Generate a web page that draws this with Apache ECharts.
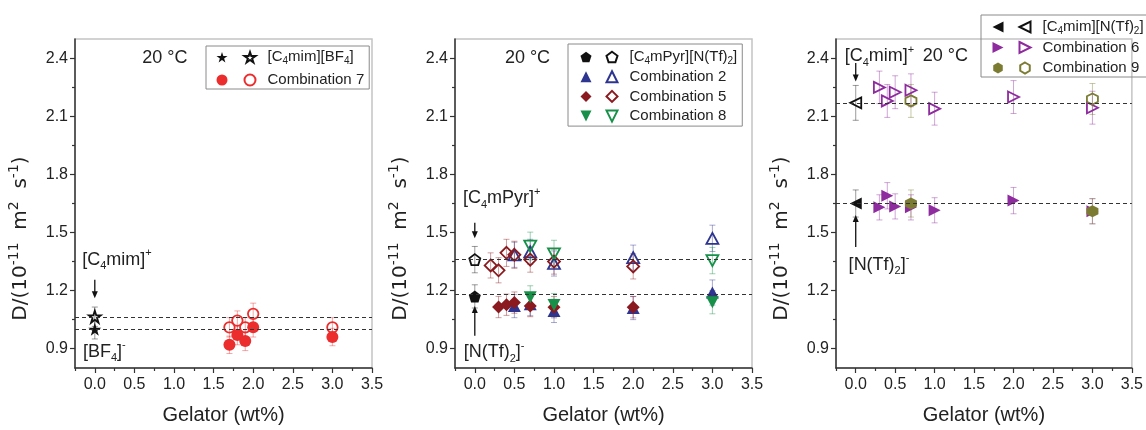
<!DOCTYPE html>
<html><head><meta charset="utf-8">
<script src="https://cdn.jsdelivr.net/npm/echarts@6/dist/echarts.min.js"></script>
<style>html,body{margin:0;padding:0;background:#fff}#c{width:1146px;height:430px}</style>
</head><body><div id="c"></div>
<script>
// ---------------- DATA ----------------
const xTicks = [0, 0.5, 1, 1.5, 2, 2.5, 3, 3.5];
const xMinorTicks = [-0.25, 0.25, 0.75, 1.25, 1.75, 2.25, 2.75, 3.25];
const yTicks = [0.9, 1.2, 1.5, 1.8, 2.1, 2.4];
const yMinorTicks = [1.05, 1.35, 1.65, 1.95, 2.25];

// Panel 1 : [C4mim][BF4] + Combination 7
const bf4X = [0];
const bf4Filled = [1.00], bf4FilledErr = [0.05];
const bf4Open = [1.065], bf4OpenErr = [0.05];
const comb7X = [1.7, 1.8, 1.9, 2.0, 3.0];
const comb7Filled = [0.92, 0.97, 0.94, 1.01, 0.96];
const comb7FilledErr = [0.045, 0.05, 0.05, 0.05, 0.045];
const comb7Open = [1.01, 1.045, 1.01, 1.08, 1.01];
const comb7OpenErr = [0.05, 0.05, 0.05, 0.055, 0.05];
const panel1Ref = [1.00, 1.065];

// Panel 2 : [C4mPyr][N(Tf)2] + Combinations 2, 5, 8
const pyrX = [0];
const pyrFilled = [1.17], pyrFilledErr = [0.06];
const pyrOpen = [1.36], pyrOpenErr = [0.068];
const comb2X = [0.5, 0.7, 1.0, 2.0, 3.0];
const comb2Filled = [1.12, 1.13, 1.095, 1.11, 1.19];
const comb2FilledErr = [0.06, 0.06, 0.06, 0.06, 0.065];
const comb2Open = [1.385, 1.40, 1.34, 1.37, 1.47];
const comb2OpenErr = [0.065, 0.065, 0.065, 0.065, 0.068];
const comb5FilledX = [0.3, 0.4, 0.5, 0.7, 1.0, 2.0];
const comb5Filled = [1.115, 1.127, 1.138, 1.12, 1.114, 1.114];
const comb5FilledErr = [0.055, 0.055, 0.055, 0.055, 0.055, 0.055];
const comb5OpenX = [0.2, 0.3, 0.4, 0.5, 0.7, 1.0, 2.0];
const comb5Open = [1.33, 1.305, 1.395, 1.385, 1.36, 1.35, 1.325];
const comb5OpenErr = [0.065, 0.065, 0.07, 0.07, 0.065, 0.065, 0.065];
const comb8X = [0.7, 1.0, 3.0];
const comb8Filled = [1.165, 1.125, 1.14];
const comb8FilledErr = [0.06, 0.06, 0.06];
const comb8Open = [1.43, 1.39, 1.355];
const comb8OpenErr = [0.072, 0.07, 0.068];
const panel2Ref = [1.36, 1.175];

// Panel 3 : [C4mim][N(Tf)2] + Combinations 6, 9
const tfX = [0];
const tfFilled = [1.65], tfFilledErr = [0.07];
const tfOpen = [2.17], tfOpenErr = [0.09];
const comb6X = [0.3, 0.4, 0.5, 0.7, 1.0, 2.0, 3.0];
const comb6Filled = [1.63, 1.69, 1.635, 1.63, 1.615, 1.665, 1.61];
const comb6FilledErr = [0.065, 0.068, 0.065, 0.065, 0.065, 0.068, 0.065];
const comb6Open = [2.25, 2.18, 2.225, 2.235, 2.14, 2.20, 2.145];
const comb6OpenErr = [0.084, 0.085, 0.085, 0.085, 0.085, 0.085, 0.085];
const comb9X = [0.7, 3.0];
const comb9Filled = [1.65, 1.61], comb9FilledErr = [0.07, 0.065];
const comb9Open = [2.18, 2.19], comb9OpenErr = [0.085, 0.08];
const panel3Ref = [2.17, 1.65];

// Annotations text
const tempLabel = '20 °C';
const ionLabels = [
  ['[C{s|4}mim]{p|+}', '[BF{s|4}]{p|-}'],
  ['[C{s|4}mPyr]{p|+}', '[N(Tf){s|2}]{p|-}'],
  ['[C{s|4}mim]{p|+}', '[N(Tf){s|2}]{p|-}']
];
const yTitle = 'D/(10{p|-11}  m{p|2}  s{p|-1})';
const xTitle = 'Gelator (wt%)';

// ---------------- STYLE / LAYOUT ----------------
const FONT = '"Liberation Sans", Arial, Helvetica, sans-serif';
const C = {
  black: '#111111', red: '#ec2d2d', blue: '#2e3590', dred: '#8a1a1f',
  green: '#17914a', purple: '#8e2b9e', olive: '#7b7c32'
};
const SYM = {
  star: 'path://M50,0 L61.8,35.4 L99,35.4 L68.9,57.3 L80.3,92.7 L50,70.8 L19.7,92.7 L31.1,57.3 L1,35.4 L38.2,35.4 Z',
  pent: 'path://M50,0 L97.6,34.5 L79.4,90.5 L20.6,90.5 L2.4,34.5 Z',
  hex: 'path://M50,0 L93.3,25 L93.3,75 L50,100 L6.7,75 L6.7,25 Z',
  up: 'path://M50,0 L100,100 L0,100 Z',
  down: 'path://M0,0 L100,0 L50,100 Z',
  left: 'path://M0,50 L100,0 L100,100 Z',
  right: 'path://M0,0 L100,50 L0,100 Z',
  diamond: 'diamond',
  circle: 'circle'
};
function rgba(hex, a) { const n = parseInt(hex.slice(1), 16); return `rgba(${n >> 16 & 255},${n >> 8 & 255},${n & 255},${a})`; }

const gridLefts = [75, 455, 836];
const grids = gridLefts.map(l => ({
  left: l, top: 39, width: 297, height: 334, show: true,
  borderColor: '#c4c4c4', borderWidth: 1.5, backgroundColor: 'transparent'
}));

const axisColor = '#333';
const xAxes = [], yAxes = [];
const richSup = {
  p: { fontSize: 14, fontFamily: '"DejaVu Sans", sans-serif', color: '#222', verticalAlign: 'top' }
};
gridLefts.forEach((_, i) => {
  xAxes.push({
    type: 'value', gridIndex: i, min: -0.25, max: 3.5, position: 'bottom',
    axisLine: { show: true, onZero: false, lineStyle: { color: axisColor, width: 1.5 } },
    axisTick: { show: true, length: 5, customValues: xTicks, lineStyle: { color: axisColor, width: 1.2 } },
    axisLabel: { customValues: xTicks, formatter: v => v.toFixed(1), fontSize: 16, color: '#222', fontFamily: FONT, margin: 9 },
    splitLine: { show: false },
    name: xTitle, nameLocation: 'middle', nameGap: 37,
    nameTextStyle: { fontSize: 20, fontFamily: FONT, color: '#222' }
  });
  xAxes.push({
    type: 'value', gridIndex: i, min: -0.25, max: 3.5, position: 'bottom',
    axisLine: { show: false, onZero: false },
    axisTick: { show: true, length: 3, customValues: xMinorTicks, lineStyle: { color: axisColor, width: 1.2 } },
    axisLabel: { show: false }, splitLine: { show: false }
  });
  yAxes.push({
    type: 'value', gridIndex: i, min: 0.8, max: 2.5, position: 'left',
    axisLine: { show: true, onZero: false, lineStyle: { color: axisColor, width: 1.5 } },
    axisTick: { show: true, length: 5, customValues: yTicks, lineStyle: { color: axisColor, width: 1.2 } },
    axisLabel: { customValues: yTicks, formatter: v => v.toFixed(1), fontSize: 16, color: '#222', fontFamily: FONT, margin: 7 },
    splitLine: { show: false },
    name: yTitle, nameLocation: 'middle', nameGap: 40, nameRotate: 90,
    nameTextStyle: { fontSize: 20, fontFamily: '"DejaVu Sans", sans-serif', color: '#222', lineHeight: 28, padding: [0, 70, 0, 0], rich: richSup }
  });
  yAxes.push({
    type: 'value', gridIndex: i, min: 0.8, max: 2.5, position: 'left',
    axisLine: { show: false, onZero: false },
    axisTick: { show: true, length: 3, customValues: yMinorTicks, lineStyle: { color: axisColor, width: 1.2 } },
    axisLabel: { show: false }, splitLine: { show: false }
  });
});

const series = [];
function pts(xs, ys) { return xs.map((x, k) => [x, ys[k]]); }
function errBars(panel, xs, ys, es, color) {
  series.push({
    type: 'custom', xAxisIndex: panel * 2, yAxisIndex: panel * 2, silent: true, z: 1,
    data: xs.map((x, k) => [x, ys[k], es[k]]),
    encode: { x: 0, y: 1 },
    renderItem: (params, api) => {
      const x = api.value(0), y = api.value(1), e = api.value(2);
      const t = api.coord([x, y + e]), b = api.coord([x, y - e]);
      const w = 3, st = { stroke: rgba(color, 0.42), lineWidth: 1 };
      return { type: 'group', children: [
        { type: 'line', shape: { x1: t[0], y1: t[1], x2: b[0], y2: b[1] }, style: st },
        { type: 'line', shape: { x1: t[0] - w, y1: t[1], x2: t[0] + w, y2: t[1] }, style: st },
        { type: 'line', shape: { x1: b[0] - w, y1: b[1], x2: b[0] + w, y2: b[1] }, style: st }
      ] };
    }
  });
}
function scat(panel, name, xs, ys, sym, size, color, open, z) {
  series.push({
    type: 'scatter', name, xAxisIndex: panel * 2, yAxisIndex: panel * 2, z: z || 3,
    symbol: SYM[sym], symbolSize: size, data: pts(xs, ys),
    itemStyle: open ? { color: 'rgba(255,255,255,0)', borderColor: color, borderWidth: 1.8, opacity: 1 }
                    : { color, borderWidth: 0, opacity: 1 },
    emphasis: { disabled: true }
  });
}
function refLines(panel, vals) {
  series.push({
    type: 'scatter', xAxisIndex: panel * 2, yAxisIndex: panel * 2, data: [], silent: true, z: 2,
    markLine: {
      silent: true, symbol: ['none', 'none'], label: { show: false },
      lineStyle: { type: [4, 3], color: '#333', width: 1 },
      data: vals.map(v => ({ yAxis: v }))
    }
  });
}
function texts(panel, items) {
  series.push({
    type: 'custom', xAxisIndex: panel * 2, yAxisIndex: panel * 2, silent: true, z: 5,
    data: items.map(it => [it.x, it.y]), encode: { x: 0, y: 1 },
    renderItem: (params, api) => {
      const it = items[params.dataIndex];
      const p = api.coord([api.value(0), api.value(1)]);
      return { type: 'text', x: p[0], y: p[1], style: {
        text: it.t, fontSize: 18, fontFamily: FONT, fill: '#222', align: 'left', verticalAlign: 'middle',
        lineHeight: 24,
        rich: {
          s: { fontSize: 11, fontFamily: FONT, fill: '#222', verticalAlign: 'bottom' },
          p: { fontSize: 11, fontFamily: FONT, fill: '#222', verticalAlign: 'top' }
        }
      } };
    }
  });
}
function arrows(panel, items) {
  series.push({
    type: 'custom', xAxisIndex: panel * 2, yAxisIndex: panel * 2, silent: true, z: 5,
    data: items, encode: { x: 0, y: [1, 2] },
    renderItem: (params, api) => {
      const a = api.coord([api.value(0), api.value(1)]), b = api.coord([api.value(0), api.value(2)]);
      const dir = b[1] > a[1] ? 1 : -1, hl = 7, hw = 3;
      return { type: 'group', children: [
        { type: 'line', shape: { x1: a[0], y1: a[1], x2: b[0], y2: b[1] - dir * hl * 0.6 }, style: { stroke: '#111', lineWidth: 1.3 } },
        { type: 'polygon', shape: { points: [[b[0], b[1]], [b[0] - hw, b[1] - dir * hl], [b[0] + hw, b[1] - dir * hl]] }, style: { fill: '#111' } }
      ] };
    }
  });
}

// ---- Panel 1 ----
refLines(0, panel1Ref);
errBars(0, bf4X, bf4Filled, bf4FilledErr, C.black);
errBars(0, bf4X, bf4Open, bf4OpenErr, C.black);
errBars(0, comb7X, comb7Filled, comb7FilledErr, C.red);
errBars(0, comb7X, comb7Open, comb7OpenErr, C.red);
scat(0, 'bf4 f', bf4X, bf4Filled, 'star', 13, C.black, false);
scat(0, 'bf4 o', bf4X, bf4Open, 'star', 12, C.black, true);
scat(0, 'c7 f', comb7X, comb7Filled, 'circle', 12, C.red, false);
scat(0, 'c7 o', comb7X, comb7Open, 'circle', 10.5, C.red, true);
texts(0, [
  { x: 0.6, y: 2.4, t: tempLabel },
  { x: -0.16, y: 1.36, t: ionLabels[0][0] },
  { x: -0.15, y: 0.885, t: ionLabels[0][1] }
]);
arrows(0, [[0, 1.256, 1.16]]);

// ---- Panel 2 ----
refLines(1, panel2Ref);
errBars(1, pyrX, pyrFilled, pyrFilledErr, C.black);
errBars(1, pyrX, pyrOpen, pyrOpenErr, C.black);
errBars(1, comb2X, comb2Filled, comb2FilledErr, C.blue);
errBars(1, comb2X, comb2Open, comb2OpenErr, C.blue);
errBars(1, comb5FilledX, comb5Filled, comb5FilledErr, C.dred);
errBars(1, comb5OpenX, comb5Open, comb5OpenErr, C.dred);
errBars(1, comb8X, comb8Filled, comb8FilledErr, C.green);
errBars(1, comb8X, comb8Open, comb8OpenErr, C.green);
scat(1, 'pyr f', pyrX, pyrFilled, 'pent', 12, C.black, false);
scat(1, 'pyr o', pyrX, pyrOpen, 'pent', 11, C.black, true);
scat(1, 'c2 f', comb2X, comb2Filled, 'up', [13, 12], C.blue, false);
scat(1, 'c2 o', comb2X, comb2Open, 'up', [12, 11], C.blue, true);
scat(1, 'c5 f', comb5FilledX, comb5Filled, 'diamond', 13, C.dred, false);
scat(1, 'c5 o', comb5OpenX, comb5Open, 'diamond', 12, C.dred, true);
scat(1, 'c8 f', comb8X, comb8Filled, 'down', [13, 12], C.green, false);
scat(1, 'c8 o', comb8X, comb8Open, 'down', [12, 11], C.green, true);
texts(1, [
  { x: 0.38, y: 2.4, t: tempLabel },
  { x: -0.15, y: 1.678, t: ionLabels[1][0] },
  { x: -0.14, y: 0.88, t: ionLabels[1][1] }
]);
arrows(1, [[0, 1.55, 1.47], [0, 0.966, 1.12]]);

// ---- Panel 3 ----
refLines(2, panel3Ref);
errBars(2, tfX, tfFilled, tfFilledErr, C.black);
errBars(2, tfX, tfOpen, tfOpenErr, C.black);
errBars(2, comb6X, comb6Filled, comb6FilledErr, C.purple);
errBars(2, comb6X, comb6Open, comb6OpenErr, C.purple);
errBars(2, comb9X, comb9Filled, comb9FilledErr, C.olive);
errBars(2, comb9X, comb9Open, comb9OpenErr, C.olive);
scat(2, 'tf f', tfX, tfFilled, 'left', [12, 12], C.black, false);
scat(2, 'tf o', tfX, tfOpen, 'left', [11, 11], C.black, true);
scat(2, 'c6 f', comb6X, comb6Filled, 'right', [12, 12], C.purple, false);
scat(2, 'c6 o', comb6X, comb6Open, 'right', [11, 11], C.purple, true);
scat(2, 'c9 f', comb9X, comb9Filled, 'hex', 12, C.olive, false);
scat(2, 'c9 o', comb9X, comb9Open, 'hex', 11, C.olive, true);
texts(2, [
  { x: 0.85, y: 2.41, t: tempLabel },
  { x: -0.14, y: 2.41, t: ionLabels[2][0] },
  { x: -0.09, y: 1.334, t: ionLabels[2][1] }
]);
arrows(2, [[0, 2.376, 2.28], [0, 1.425, 1.59]]);

// ---- Legends ----
const legendText = {
  'bf4 o': '[C{s|4}mim][BF{s|4}]', 'c7 o': 'Combination 7',
  'pyr o': '[C{s|4}mPyr][N(Tf){s|2}]', 'c2 o': 'Combination 2', 'c5 o': 'Combination 5', 'c8 o': 'Combination 8',
  'tf o': '[C{s|4}mim][N(Tf){s|2}]', 'c6 o': 'Combination 6', 'c9 o': 'Combination 9'
};
const legTS = {
  fontSize: 15, fontFamily: FONT, color: '#222', lineHeight: 18,
  rich: { s: { fontSize: 10, fontFamily: FONT, color: '#222', verticalAlign: 'bottom' } }
};
function legendPair(filled, open, frame, iconF, row1, gap) {
  return [
    { orient: 'vertical', left: iconF - 5.5, top: row1 - 9, padding: 0, itemWidth: 11, itemHeight: 11, itemGap: gap,
      data: filled, formatter: () => ' ', textStyle: legTS, selectedMode: false, z: 6 },
    { orient: 'vertical', left: frame.l, top: frame.t, itemWidth: 11, itemHeight: 11, itemGap: gap,
      padding: [row1 - 9 - frame.t, 5, frame.pb, 37.5], borderColor: '#8a8a8a', borderWidth: 1,
      data: open, formatter: n => legendText[n], textStyle: Object.assign({ padding: [0, 0, 0, 7] }, legTS),
      selectedMode: false, z: 5 }
  ];
}
const legends = [].concat(
  legendPair(['bf4 f', 'c7 f'], ['bf4 o', 'c7 o'], { l: 206, t: 46, pb: 0 }, 222, 57.3, 4.7),
  legendPair(['pyr f', 'c2 f', 'c5 f', 'c8 f'], ['pyr o', 'c2 o', 'c5 o', 'c8 o'], { l: 568, t: 44, pb: 1 }, 586, 57, 1.7),
  legendPair(['tf f', 'c6 f', 'c9 f'], ['tf o', 'c6 o', 'c9 o'], { l: 981, t: 15, pb: 0 }, 998, 27, 2.5)
);

const chart = echarts.init(document.getElementById('c'), null, { renderer: 'canvas' });
chart.setOption({
  animation: false,
  backgroundColor: '#fff',
  grid: grids, xAxis: xAxes, yAxis: yAxes,
  legend: legends,
  series
});
</script></body></html>
